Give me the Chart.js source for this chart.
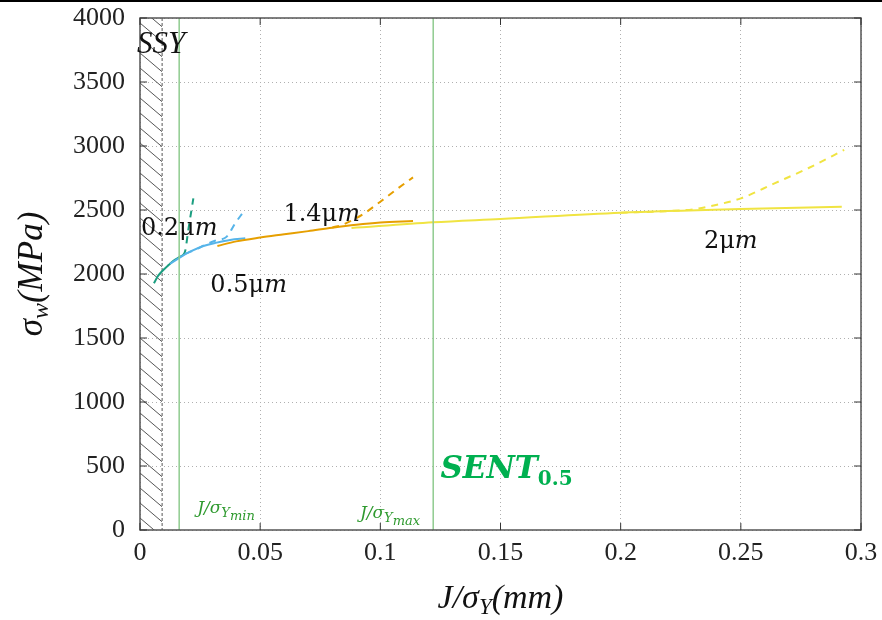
<!DOCTYPE html>
<html lang="en">
<head>
<meta charset="UTF-8">
<title>σw vs J/σY</title>
<script src="https://cdn.jsdelivr.net/npm/chart.js"></script>
<style>
  html, body { margin: 0; padding: 0; background: #fff; }
  #wrap { width: 882px; height: 620px; }
</style>
</head>
<body>
<div id="wrap"><canvas id="chart" width="882" height="620"></canvas></div>
<script>
// axis ticks
const xTicks = [0, 0.05, 0.1, 0.15, 0.2, 0.25, 0.3];
const yTicks = [0, 500, 1000, 1500, 2000, 2500, 3000, 3500, 4000];

// SSY limit and J/sigmaY bounds (mm)
const ssyLimit = 0.0092;
const jMin = 0.0163;
const jMax = 0.122;

// 0.2 um
const g02SolidX = [0.0058, 0.0075, 0.0097, 0.0120, 0.0139, 0.0160, 0.0178];
const g02SolidY = [1927, 1985, 2031, 2072, 2104, 2128, 2145];
const g02DashX  = [0.0178, 0.0188, 0.0201, 0.0212, 0.0222];
const g02DashY  = [2145, 2180, 2344, 2474, 2591];

// 0.5 um
const b05SolidX = [0.0125, 0.0167, 0.0208, 0.0264, 0.0319, 0.0375, 0.0438];
const b05SolidY = [2080, 2130, 2174, 2219, 2245, 2266, 2279];
const b05DashX  = [0.0190, 0.0229, 0.0270, 0.0312, 0.0361, 0.0396, 0.0431];
const b05DashY  = [2160, 2188, 2228, 2260, 2292, 2396, 2487];

// 1.4 um
const o14SolidX = [0.0322, 0.040, 0.050, 0.060, 0.070, 0.080, 0.090, 0.100, 0.1136];
const o14SolidY = [2219, 2255, 2285, 2310, 2335, 2362, 2385, 2402, 2414];
const o14DashX  = [0.080, 0.085, 0.093, 0.100, 0.107, 0.1136];
const o14DashY  = [2362, 2390, 2470, 2565, 2665, 2755];

// 2 um
const y2SolidX = [0.088, 0.122, 0.150, 0.200, 0.250, 0.292];
const y2SolidY = [2359, 2404, 2430, 2479, 2508, 2525];
const y2DashX  = [0.200, 0.220, 0.230, 0.2375, 0.250, 0.264, 0.278, 0.293];
const y2DashY  = [2479, 2492, 2505, 2531, 2591, 2708, 2826, 2969];

const zip = (xs, ys) => xs.map((x, i) => ({ x: x, y: ys[i] }));

function line(xs, ys, color, dashed) {
  return {
    data: zip(xs, ys),
    borderColor: color,
    borderWidth: 2,
    borderDash: dashed ? [7, 6] : [],
    pointRadius: 0,
    showLine: true,
    cubicInterpolationMode: 'monotone',
    fill: false
  };
}

function vline(x, color) {
  return {
    data: [{ x: x, y: 0 }, { x: x, y: 4000 }],
    borderColor: color,
    borderWidth: 1.5,
    pointRadius: 0,
    showLine: true
  };
}

const TEAL = '#1b9e80', BLUE = '#56b4e9', ORANGE = '#e69f00', YELLOW = '#f0e442';

// draw a run of text pieces, each with its own font / vertical shift
function drawRuns(ctx, x, y, runs, align) {
  let total = 0;
  runs.forEach(r => { ctx.font = r.font; total += ctx.measureText(r.text).width; });
  let cx = align === 'center' ? x - total / 2 : x;
  runs.forEach(r => {
    ctx.font = r.font;
    ctx.fillStyle = r.color || '#111';
    ctx.textAlign = 'left';
    ctx.textBaseline = 'alphabetic';
    ctx.fillText(r.text, cx, y + (r.dy || 0));
    cx += ctx.measureText(r.text).width;
  });
}

const decor = {
  id: 'decor',
  beforeDatasetsDraw(chart) {
    const { ctx, chartArea: a, scales: { x, y } } = chart;
    ctx.save();
    // hatched SSY band
    const xs = x.getPixelForValue(ssyLimit);
    ctx.beginPath();
    ctx.rect(a.left, a.top, xs - a.left, a.bottom - a.top);
    ctx.clip();
    ctx.strokeStyle = '#555';
    ctx.lineWidth = 1;
    for (let k = a.top - 40; k < a.bottom + 20; k += 15) {
      ctx.beginPath();
      ctx.moveTo(a.left, k);
      ctx.lineTo(xs, k + (xs - a.left) * 0.85);
      ctx.stroke();
    }
    ctx.restore();
    ctx.save();
    ctx.strokeStyle = '#555';
    ctx.setLineDash([3, 2]);
    ctx.beginPath();
    ctx.moveTo(xs, a.top);
    ctx.lineTo(xs, a.bottom);
    ctx.stroke();
    ctx.restore();
  },
  afterDatasetsDraw(chart) {
    const { ctx, chartArea: a, scales: { x, y } } = chart;
    ctx.save();
    // frame + inward ticks
    ctx.strokeStyle = '#555';
    ctx.lineWidth = 1.5;
    ctx.strokeRect(a.left, a.top, a.right - a.left, a.bottom - a.top);
    ctx.lineWidth = 1;
    ctx.strokeStyle = '#333';
    xTicks.forEach(v => {
      const px = x.getPixelForValue(v);
      ctx.beginPath();
      ctx.moveTo(px, a.bottom); ctx.lineTo(px, a.bottom - 7);
      ctx.moveTo(px, a.top); ctx.lineTo(px, a.top + 7);
      ctx.stroke();
    });
    yTicks.forEach(v => {
      const py = y.getPixelForValue(v);
      ctx.beginPath();
      ctx.moveTo(a.left, py); ctx.lineTo(a.left + 7, py);
      ctx.moveTo(a.right, py); ctx.lineTo(a.right - 7, py);
      ctx.stroke();
    });
    // top page rule
    ctx.strokeStyle = '#000';
    ctx.lineWidth = 2;
    ctx.beginPath();
    ctx.moveTo(0, 1); ctx.lineTo(chart.width, 1);
    ctx.stroke();

    const P = (vx, vy) => [x.getPixelForValue(vx), y.getPixelForValue(vy)];
    const ser = 'px "Liberation Serif"';
    const dv = 'px "DejaVu Serif"';
    const it = (s, f) => 'italic ' + s + f;
    const up = (s, f) => s + f;

    let p = P(0.0088, 3730);
    drawRuns(ctx, p[0], p[1], [{ text: 'SSY', font: it(31, ser) }], 'center');

    const um = (lbl, vx, vy) => {
      const q = P(vx, vy);
      drawRuns(ctx, q[0], q[1], [
        { text: lbl + 'μ', font: up(24, dv) },
        { text: 'm', font: it(24, dv) }
      ], 'center');
    };
    um('0.2', 0.0163, 2305);
    um('0.5', 0.0452, 1859);
    um('1.4', 0.0756, 2414);
    um('2', 0.2458, 2203);

    p = P(0.125, 406);
    drawRuns(ctx, p[0], p[1], [
      { text: 'SENT', font: 'bold italic 31' + dv, color: '#00b050' },
      { text: '0.5', font: 'bold 20' + dv, color: '#00b050', dy: 7 }
    ], 'left');

    const jl = (sub, vx, vy) => {
      const q = P(vx, vy);
      drawRuns(ctx, q[0], q[1], [
        { text: 'J/σ', font: it(17, dv), color: '#2f9a2f' },
        { text: 'Y', font: it(13, dv), color: '#2f9a2f', dy: 4 },
        { text: sub, font: it(13, dv), color: '#2f9a2f', dy: 7 }
      ], 'left');
    };
    jl('min', 0.0238, 133);
    jl('max', 0.0915, 94);

    // axis titles
    drawRuns(ctx, (a.left + a.right) / 2, 608, [
      { text: 'J/σ', font: it(34, ser) },
      { text: 'Y', font: it(23, ser), dy: 6 },
      { text: '(mm)', font: it(34, ser) }
    ], 'center');
    ctx.translate(42, (a.top + a.bottom) / 2);
    ctx.rotate(-Math.PI / 2);
    drawRuns(ctx, 0, 0, [
      { text: 'σ', font: it(35, ser) },
      { text: 'w', font: it(24, ser), dy: 6 },
      { text: '(MPa)', font: it(35, ser) }
    ], 'center');
    ctx.restore();
  }
};

new Chart(document.getElementById('chart'), {
  type: 'scatter',
  data: {
    datasets: [
      vline(jMin, '#8fcb8f'),
      vline(jMax, '#8fcb8f'),
      line(y2DashX, y2DashY, YELLOW, true),
      line(y2SolidX, y2SolidY, YELLOW, false),
      line(o14DashX, o14DashY, ORANGE, true),
      line(o14SolidX, o14SolidY, ORANGE, false),
      line(b05DashX, b05DashY, BLUE, true),
      line(b05SolidX, b05SolidY, BLUE, false),
      line(g02DashX, g02DashY, TEAL, true),
      line(g02SolidX, g02SolidY, TEAL, false)
    ]
  },
  options: {
    responsive: false,
    devicePixelRatio: 1,
    animation: false,
    layout: { padding: { top: 18, right: 21, left: 0, bottom: 0 } },
    plugins: { legend: { display: false }, tooltip: { enabled: false } },
    scales: {
      x: {
        type: 'linear',
        min: 0, max: 0.3,
        afterBuildTicks: s => { s.ticks = xTicks.map(v => ({ value: v })); },
        afterFit: s => { s.height = 90; s.paddingLeft = 0; s.paddingRight = 0; },
        ticks: {
          padding: 8,
          color: '#222',
          font: { family: 'Liberation Serif', size: 26 },
          callback: v => String(v)
        },
        grid: { color: '#b0b0b0', drawTicks: false },
        border: { display: false, dash: [1, 3] }
      },
      y: {
        type: 'linear',
        min: 0, max: 4000,
        afterBuildTicks: s => { s.ticks = yTicks.map(v => ({ value: v })); },
        afterFit: s => { s.width = 140; s.paddingTop = 0; s.paddingBottom = 0; },
        ticks: {
          padding: 15,
          color: '#222',
          font: { family: 'Liberation Serif', size: 26 },
          callback: v => String(v)
        },
        grid: { color: '#b0b0b0', drawTicks: false },
        border: { display: false, dash: [1, 3] }
      }
    }
  },
  plugins: [decor]
});
</script>
</body>
</html>
